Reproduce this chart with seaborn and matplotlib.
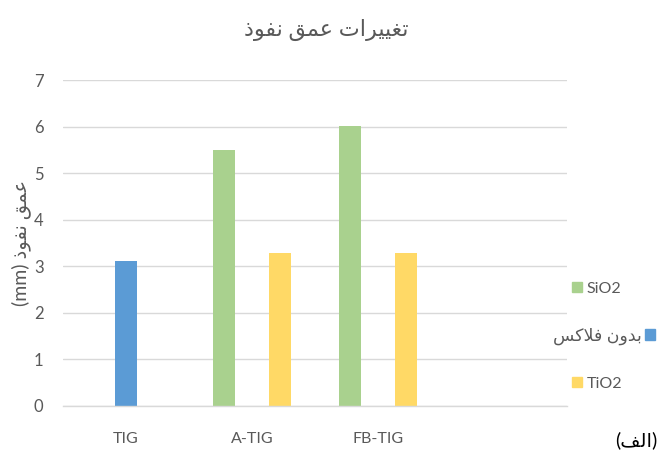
import numpy as np
import pandas as pd
import matplotlib
matplotlib.use("Agg")
import matplotlib.pyplot as plt
import seaborn as sns

# data
categories = ["TIG", "A-TIG", "FB-TIG"]
series_names = ["SiO2", "بدون فلاکس", "TiO2"]
sio2 = [np.nan, 5.5, 6.02]
no_flux = [3.12, np.nan, np.nan]
tio2 = [np.nan, 3.28, 3.28]
colors = ["#A9D18E", "#5B9BD5", "#FFD966"]

title_text = "تغییرات عمق نفوذ"
ylabel_text = "عمق نفوذ"
panel_text = "الف"


# minimal Arabic/Persian shaping (matplotlib does not shape Arabic itself)
FORMS = {
    "ا": ("\uFE8D", "\uFE8E", None, None),
    "ب": ("\uFE8F", "\uFE90", "\uFE91", "\uFE92"),
    "ت": ("\uFE95", "\uFE96", "\uFE97", "\uFE98"),
    "د": ("\uFEA9", "\uFEAA", None, None),
    "ذ": ("\uFEAB", "\uFEAC", None, None),
    "ر": ("\uFEAD", "\uFEAE", None, None),
    "س": ("\uFEB1", "\uFEB2", "\uFEB3", "\uFEB4"),
    "ع": ("\uFEC9", "\uFECA", "\uFECB", "\uFECC"),
    "غ": ("\uFECD", "\uFECE", "\uFECF", "\uFED0"),
    "ف": ("\uFED1", "\uFED2", "\uFED3", "\uFED4"),
    "ق": ("\uFED5", "\uFED6", "\uFED7", "\uFED8"),
    "ل": ("\uFEDD", "\uFEDE", "\uFEDF", "\uFEE0"),
    "م": ("\uFEE1", "\uFEE2", "\uFEE3", "\uFEE4"),
    "ن": ("\uFEE5", "\uFEE6", "\uFEE7", "\uFEE8"),
    "و": ("\uFEED", "\uFEEE", None, None),
    "ی": ("\uFBFC", "\uFBFD", "\uFBFE", "\uFBFF"),
    "ک": ("\uFB8E", "\uFB8F", "\uFB90", "\uFB91"),
}


def dual(c):
    return c in FORMS and FORMS[c][2] is not None


def rtl(text):
    out = []
    i = 0
    while i < len(text):
        c = text[i]
        if c not in FORMS:
            out.append(c)
            i += 1
            continue
        prev = text[i - 1] if i > 0 else None
        nxt = text[i + 1] if i + 1 < len(text) else None
        join_prev = prev is not None and dual(prev)
        if c == "ل" and nxt == "ا":
            out.append("\uFEFC" if join_prev else "\uFEFB")
            i += 2
            continue
        join_next = dual(c) and nxt in FORMS
        iso, fin, ini, med = FORMS[c]
        if join_prev and join_next:
            out.append(med)
        elif join_prev:
            out.append(fin)
        elif join_next:
            out.append(ini)
        else:
            out.append(iso)
        i += 1
    return "".join(out)[::-1]


df = pd.DataFrame({
    "category": categories * 3,
    "series": [s for s in series_names for _ in categories],
    "value": sio2 + no_flux + tio2,
})

sns.set_theme(style="white")
plt.rcParams["font.family"] = ["Lato", "DejaVu Sans"]

fig, ax = plt.subplots(figsize=(6.58, 4.66), dpi=100)
fig.subplots_adjust(left=63 / 658, right=567 / 658, bottom=60.3 / 466, top=385.8 / 466)

sns.barplot(data=df, x="category", y="value", hue="series", order=categories,
            hue_order=series_names, palette=colors, width=0.666, gap=0.2,
            errorbar=None, ax=ax, legend=False, linewidth=0, saturation=1)

ax.set_xlim(-0.5, 3.5)
ax.set_ylim(0, 7)
ax.set_yticks(range(0, 8))
ax.yaxis.grid(True, color="#D9D9D9", linewidth=1)
ax.set_axisbelow(True)
for side in ["top", "right", "left"]:
    ax.spines[side].set_visible(False)
ax.spines["bottom"].set_color("#D9D9D9")
ax.spines["bottom"].set_linewidth(1)
ax.tick_params(axis="y", length=0, pad=14, labelsize=12, labelcolor="#595959")
ax.tick_params(axis="x", length=0, pad=19, labelsize=11.5, labelcolor="#595959")
ax.set_xlabel("")
ax.set_ylabel("(mm) " + rtl(ylabel_text), fontsize=14, color="#595959", labelpad=2)

fig.text(326 / 658, 1 - 30 / 466, rtl(title_text), ha="center", va="center",
         fontsize=16, color="#595959")
fig.text(636 / 658, 1 - 440 / 466, "(" + rtl(panel_text) + ")", ha="center",
         va="center", fontsize=14, color="#000000")

# legend entries, one per series, the Persian one with marker on the right
legend_y = [289, 336, 384]
for k, name in enumerate(series_names):
    handle = plt.Rectangle((0, 0), 1, 1, color=colors[k])
    if k == 1:
        leg = fig.legend([handle], [rtl(name)], loc="center right",
                         bbox_to_anchor=(662 / 658, 1 - legend_y[k] / 466),
                         frameon=False, markerfirst=False, handlelength=0.6,
                         handleheight=0.6, handletextpad=0.15, fontsize=12.5,
                         labelcolor="#595959", borderaxespad=0)
    else:
        leg = fig.legend([handle], [name], loc="center left",
                         bbox_to_anchor=(566 / 658, 1 - legend_y[k] / 466),
                         frameon=False, handlelength=0.6, handleheight=0.6,
                         handletextpad=0.3, fontsize=11.5, labelcolor="#595959",
                         borderaxespad=0)

fig.savefig("out.png", dpi=100)
